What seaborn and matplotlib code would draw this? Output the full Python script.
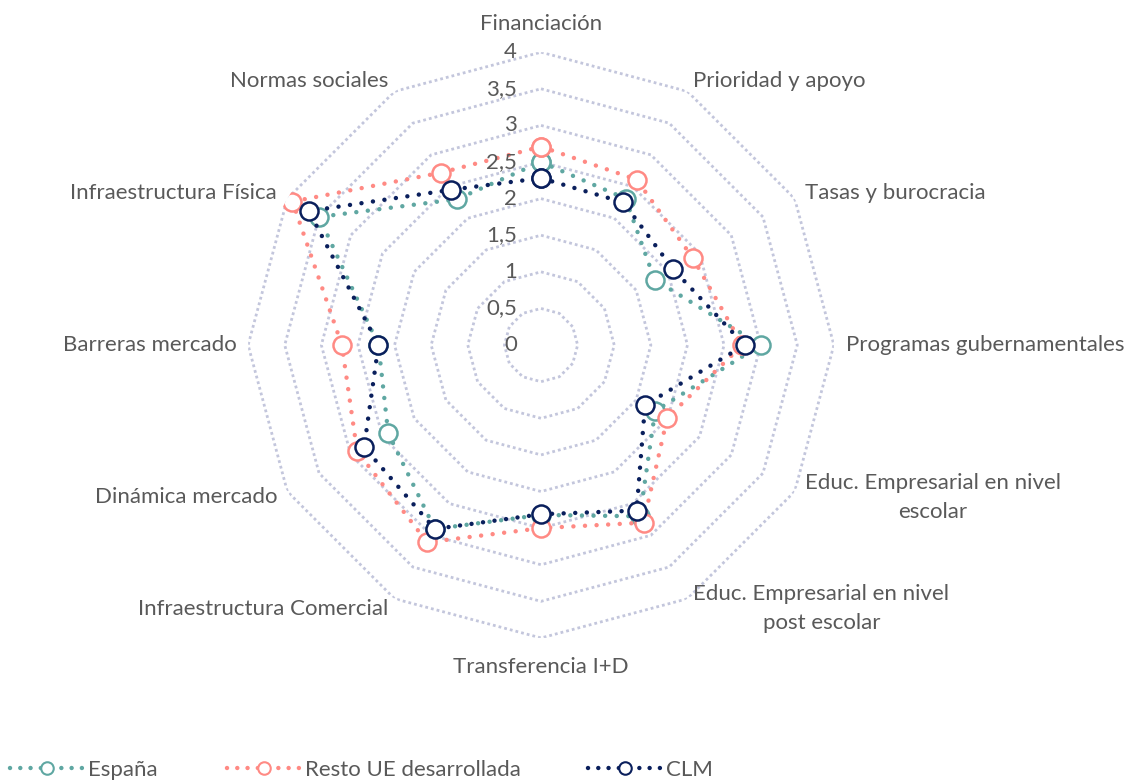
import numpy as np
import matplotlib
matplotlib.use('Agg')
import matplotlib.pyplot as plt
from matplotlib.lines import Line2D
from matplotlib.transforms import offset_copy
import seaborn as sns

categories = ['Financiación', 'Prioridad y apoyo', 'Tasas y burocracia',
              'Programas gubernamentales', 'Educ. Empresarial en nivel\nescolar',
              'Educ. Empresarial en nivel\npost escolar', 'Transferencia I+D',
              'Infraestructura Comercial', 'Dinámica mercado', 'Barreras mercado',
              'Infraestructura Física', 'Normas sociales']
espana = [2.50, 2.31, 1.79, 3.00, 1.80, 2.70, 2.32, 2.90, 2.41, 2.22, 3.50, 2.30]
resto_ue = [2.71, 2.61, 2.39, 2.75, 1.99, 2.80, 2.50, 3.11, 2.90, 2.72, 3.92, 2.72]
clm = [2.28, 2.25, 2.08, 2.78, 1.64, 2.61, 2.31, 2.90, 2.79, 2.22, 3.66, 2.45]
series_names = ['España', 'Resto UE desarrollada', 'CLM']
series_colors = ['#5fa7a2', '#ff8a84', '#0a1f5c']
ring_values = [0, 0.5, 1, 1.5, 2, 2.5, 3, 3.5, 4]
ring_labels = ['0', '0,5', '1', '1,5', '2', '2,5', '3', '3,5', '4']

sns.set_style('white')
plt.rcParams['font.family'] = ['Lato', 'DejaVu Sans']
text_color = '#595959'
grid_color = '#c3c6dc'
fs = 16

fig = plt.figure(figsize=(11.29, 7.8), dpi=100)
ax = fig.add_axes([0.2197, 0.1821, 0.519, 0.751], projection='polar')
ax.set_theta_zero_location('N')
ax.set_theta_direction(-1)

n = len(categories)
angles = np.linspace(0, 2 * np.pi, n, endpoint=False)
closed = np.append(angles, 2 * np.pi)

# polygon grid instead of circles
for r in ring_values[1:]:
    ax.plot(closed, [r] * (n + 1), color=grid_color, lw=2,
            linestyle=(0, (1, 1.1)), zorder=1)

dot_style = (0, (0.01, 2.6))
for name, vals, col in zip(series_names, [espana, resto_ue, clm], series_colors):
    sns.lineplot(x=closed, y=vals + vals[:1], ax=ax, color=col, sort=False,
                 lw=3.2, linestyle=dot_style, dash_capstyle='round',
                 marker='o', markersize=13, markerfacecolor='white',
                 markeredgecolor=col, markeredgewidth=1.8, zorder=3)

ax.set_ylim(0, 4)
ax.grid(False)
ax.spines['polar'].set_visible(False)
ax.set_xticks([])
ax.set_yticks([])
ax.set_xlabel('')
ax.set_ylabel('')

# radial value labels, just left of the vertical axis
lab_tr = offset_copy(ax.transData, fig=fig, x=-24, y=0, units='dots')
for r, lab in zip(ring_values, ring_labels):
    ax.text(0, r, lab, transform=lab_tr, ha='right', va='center',
            fontsize=fs, color=text_color)

# category labels
for a, lab in zip(angles, categories):
    s = np.sin(a)
    if abs(s) < 1e-6:
        ax.text(a, 4.39, lab, ha='center', va='center', fontsize=fs, color=text_color)
    else:
        ax.text(a, 4.16, lab, ha='left' if s > 0 else 'right', va='center',
                multialignment='center', fontsize=fs, color=text_color,
                linespacing=1.55)

# legend, one entry per box so the gaps match
legend_x = [0.0089, 0.201, 0.5208]
for name, col, x in zip(series_names, series_colors, legend_x):
    h = Line2D([], [], color=col, lw=3.2, linestyle=(0, (0.01, 2.3)), dash_capstyle='round',
               marker='o', markersize=9, markerfacecolor='white',
               markeredgecolor=col, markeredgewidth=1.5)
    fig.legend(handles=[h], labels=[name], loc='center left', bbox_to_anchor=(x, 0.0128),
               frameon=False, borderpad=0, borderaxespad=0, handlelength=3.3,
               handletextpad=0.2, fontsize=fs, labelcolor=text_color)

fig.savefig('out.png', dpi=100)
